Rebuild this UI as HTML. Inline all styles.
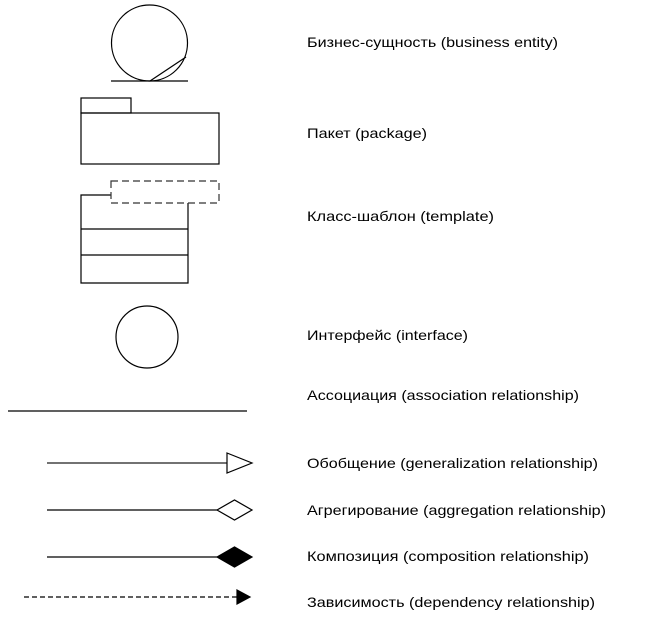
<!DOCTYPE html>
<html><head><meta charset="utf-8"><style>html,body{margin:0;padding:0;background:#fff}svg{display:block}</style></head>
<body>
<svg width="664" height="620" viewBox="0 0 664 620" xmlns="http://www.w3.org/2000/svg">
<g fill="none" stroke="#000" stroke-width="1.2">
<circle cx="149.5" cy="43" r="38"/>
<line x1="111" y1="81" x2="188" y2="81"/>
<line x1="150" y1="81" x2="186" y2="57"/>
<rect x="81" y="98" width="50" height="15"/>
<rect x="81" y="113" width="138" height="51"/>
<polyline points="111,195 81,195 81,283 188,283 188,203"/>
<line x1="81" y1="229" x2="188" y2="229"/>
<line x1="81" y1="255" x2="188" y2="255"/>
<rect x="111" y="181" width="108" height="22" stroke-dasharray="7,4" stroke="#333"/>
<circle cx="147" cy="337" r="31"/>
<line x1="8" y1="411" x2="247" y2="411"/>
<line x1="47" y1="463" x2="227" y2="463" stroke="#444" stroke-width="1.4"/>
<polygon points="227,453 252,463 227,473" fill="#fff"/>
<line x1="47" y1="510" x2="217" y2="510"/>
<polygon points="217,510 234.5,500 252,510 234.5,520" fill="#fff"/>
<line x1="47" y1="557" x2="217" y2="557"/>
<polygon points="217,557 234.5,547 252,557 234.5,567" fill="#000"/>
<line x1="24" y1="597" x2="237" y2="597" stroke-dasharray="5,3"/>
<polygon points="237,590 250,597 237,604" fill="#000"/>
</g>
<g font-family="Liberation Sans, sans-serif" font-size="14" fill="#000" lengthAdjust="spacingAndGlyphs">
<text x="307" y="47" textLength="251" lengthAdjust="spacingAndGlyphs">Бизнес-сущность (business entity)</text>
<text x="307" y="138" textLength="120" lengthAdjust="spacingAndGlyphs">Пакет (package)</text>
<text x="307" y="221" textLength="187" lengthAdjust="spacingAndGlyphs">Класс-шаблон (template)</text>
<text x="307" y="340" textLength="161" lengthAdjust="spacingAndGlyphs">Интерфейс (interface)</text>
<text x="307" y="400" textLength="272" lengthAdjust="spacingAndGlyphs">Ассоциация (association relationship)</text>
<text x="307" y="468" textLength="291" lengthAdjust="spacingAndGlyphs">Обобщение (generalization relationship)</text>
<text x="307" y="515" textLength="299" lengthAdjust="spacingAndGlyphs">Агрегирование (aggregation relationship)</text>
<text x="307" y="561" textLength="282" lengthAdjust="spacingAndGlyphs">Композиция (composition relationship)</text>
<text x="307" y="607" textLength="288" lengthAdjust="spacingAndGlyphs">Зависимость (dependency relationship)</text>
</g>
</svg>
</body></html>
